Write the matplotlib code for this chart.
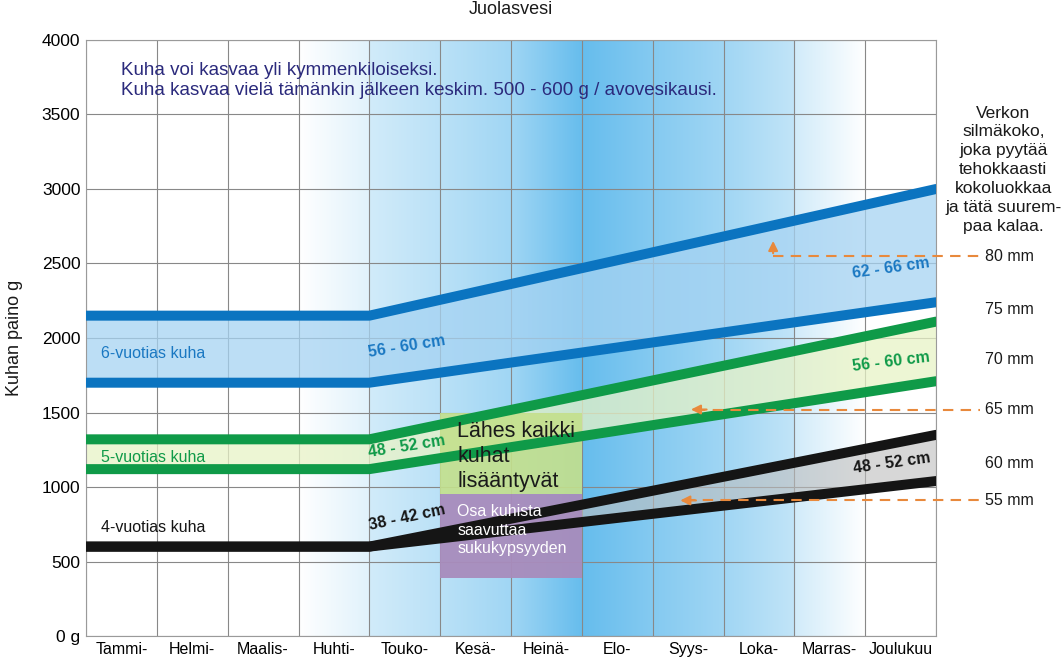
import numpy as np
import matplotlib
matplotlib.use('Agg')
import matplotlib.pyplot as plt

plt.rcParams['font.family'] = ['Liberation Sans', 'DejaVu Sans']

# months and y ticks
months = ['Tammi-', 'Helmi-', 'Maalis-', 'Huhti-', 'Touko-', 'Kesä-', 'Heinä-',
          'Elo-', 'Syys-', 'Loka-', 'Marras-', 'Joulukuu']
yticks = [0, 500, 1000, 1500, 2000, 2500, 3000, 3500, 4000]
ytick_labels = ['0 g', '500', '1000', '1500', '2000', '2500', '3000', '3500', '4000']

# growth lines: x positions (month boundaries) and weights (g)
line_x = [0, 4, 12]
blue_top = [2150, 2150, 3000]
blue_bot = [1700, 1700, 2240]
green_top = [1320, 1320, 2110]
green_bot = [1120, 1120, 1710]
black_top = [600, 600, 1350]
black_bot = [600, 600, 1040]

# spawning boxes (x0, x1, y0, y1)
box_spawn = (5, 7, 950, 1500)
box_mature = (5, 7, 390, 950)

# mesh size markers: label, weight level, arrow tip x
mesh_labels = ['80 mm', '75 mm', '70 mm', '65 mm', '60 mm', '55 mm']
mesh_y = [2550, 2188, 1859, 1520, 1161, 910]
arrow_80_x = 9.7
arrow_65_x = 8.5
arrow_55_x = 8.35

fig = plt.figure(figsize=(10.62, 6.61), dpi=100)
ax = fig.add_axes([0.081, 0.0378, 0.8004, 0.9017])

# background gradient (summer season)
gx = np.linspace(0, 12, 1200)
px = [0, 3, 4, 4.001, 5, 6, 7, 8, 9, 10, 10.001, 11, 12]
pt = [0, 0, 0.2, 0.3, 0.45, 0.62, 1.0, 0.8, 0.62, 0.4, 0.3, 0, 0]
t = np.interp(gx, px, pt)
dark = np.array([0.40, 0.74, 0.93])
rgb = 1 - t[:, None] * (1 - dark[None, :])
img = np.tile(rgb[None, :, :], (2, 1, 1))
ax.imshow(img, extent=[0, 12, 0, 4000], aspect='auto', zorder=0, interpolation='bilinear')

ax.set_xlim(0, 12)
ax.set_ylim(0, 4000)

# grid
ax.set_xticks(np.arange(13), minor=True)
ax.set_xticks(np.arange(12) + 0.5)
ax.set_xticklabels(months, fontsize=11.5)
ax.set_yticks(yticks)
ax.set_yticklabels(ytick_labels, fontsize=12.5)
ax.tick_params(which='both', length=0, pad=4)
ax.grid(which='minor', axis='x', color='#888888', lw=0.8, zorder=1)
ax.grid(which='major', axis='y', color='#888888', lw=0.8, zorder=1)
for s in ax.spines.values():
    s.set_color('#9a9a9a')
    s.set_linewidth(0.8)

# bands
ax.fill_between(line_x, blue_bot, blue_top, color='#a6d3f2', alpha=0.75, lw=0, zorder=2)
ax.fill_between(line_x, green_bot, green_top, color='#e8f3c6', alpha=0.75, lw=0, zorder=2)
ax.fill_between(line_x, black_bot, black_top, color='#bdbdbd', alpha=0.6, lw=0, zorder=2)

# boxes
x0, x1, y0, y1 = box_spawn
ax.fill_between([x0, x1], y0, y1, color='#c4e08c', alpha=0.9, lw=0, zorder=3)
x0, x1, y0, y1 = box_mature
ax.fill_between([x0, x1], y0, y1, color='#a88cbc', alpha=0.95, lw=0, zorder=3)

# lines
lw = 7.2
for ys, c in [(blue_top, '#0b74c0'), (blue_bot, '#0b74c0'),
              (green_top, '#0f9a48'), (green_bot, '#0f9a48'),
              (black_top, '#151515'), (black_bot, '#151515')]:
    ax.plot(line_x, ys, color=c, lw=lw, solid_capstyle='round',
            solid_joinstyle='round', zorder=4)

# texts in plot
navy = '#2b2a7c'
ax.text(0.49, 3792, 'Kuha voi kasvaa yli kymmenkiloiseksi.', color=navy,
        fontsize=13.5, va='center', zorder=6)
ax.text(0.49, 3658, 'Kuha kasvaa vielä tämänkin jälkeen keskim. 500 - 600 g / avovesikausi.',
        color=navy, fontsize=13.5, va='center', zorder=6)

ax.text(0.21, 1899, '6-vuotias kuha', color='#1a78c2', fontsize=11.5, va='center', zorder=6)
ax.text(0.21, 1201, '5-vuotias kuha', color='#0f9a48', fontsize=11.5, va='center', zorder=6)
ax.text(0.21, 731, '4-vuotias kuha', color='#151515', fontsize=11.5, va='center', zorder=6)

bold = dict(fontsize=11.5, fontweight='bold', ha='center', va='center', zorder=6)
ax.text(4.53, 1945, '56 - 60 cm', color='#1a78c2', rotation=9, **bold)
ax.text(4.53, 1275, '48 - 52 cm', color='#0f9a48', rotation=9, **bold)
ax.text(4.53, 795, '38 - 42 cm', color='#151515', rotation=12, **bold)
ax.text(11.37, 2470, '62 - 66 cm', color='#1a78c2', rotation=8, **bold)
ax.text(11.37, 1839, '56 - 60 cm', color='#0f9a48', rotation=7, **bold)
ax.text(11.37, 1161, '48 - 52 cm', color='#151515', rotation=8, **bold)

ax.text(5.24, 1445, 'Lähes kaikki\nkuhat\nlisääntyvät', color='#1a1a1a',
        fontsize=15.5, va='top', linespacing=1.27, zorder=6)
ax.text(5.24, 885, 'Osa kuhista\nsaavuttaa\nsukukypsyyden', color='white',
        fontsize=11.5, va='top', linespacing=1.28, zorder=6)

# mesh size dashed markers
orange = '#e8893c'
dash = (0, (5, 3.5))
xr = 12.62
ax.plot([arrow_80_x, xr], [mesh_y[0]] * 2, color=orange, lw=1.5, ls=dash, clip_on=False, zorder=5)
ax.annotate('', xy=(arrow_80_x, mesh_y[0] + 120), xytext=(arrow_80_x, mesh_y[0]),
            arrowprops=dict(arrowstyle='-|>', color=orange, lw=1.5, mutation_scale=14), zorder=5)
ax.plot([arrow_65_x + 0.1, xr], [mesh_y[3]] * 2, color=orange, lw=1.5, ls=dash, clip_on=False, zorder=5)
ax.annotate('', xy=(arrow_65_x, mesh_y[3]), xytext=(arrow_65_x + 0.3, mesh_y[3]),
            arrowprops=dict(arrowstyle='-|>', color=orange, lw=1.5, mutation_scale=14), zorder=5)
ax.plot([arrow_55_x + 0.1, xr], [mesh_y[5]] * 2, color=orange, lw=1.5, ls=dash, clip_on=False, zorder=5)
ax.annotate('', xy=(arrow_55_x, mesh_y[5]), xytext=(arrow_55_x + 0.3, mesh_y[5]),
            arrowprops=dict(arrowstyle='-|>', color=orange, lw=1.5, mutation_scale=14), zorder=5)

for lab, yv in zip(mesh_labels, mesh_y):
    ax.text(12.69, yv, lab, fontsize=11.5, va='center', ha='left', color='#1a1a1a', clip_on=False)

ax.text(12.95, 3560, 'Verkon\nsilmäkoko,\njoka pyytää\ntehokkaasti\nkokoluokkaa\nja tätä suurem-\npaa kalaa.',
        fontsize=12.5, ha='center', va='top', linespacing=1.32, color='#1a1a1a', clip_on=False)

fig.text(0.481, 0.985, 'Juolasvesi', fontsize=13, ha='center', va='center', color='#1a1a1a')
fig.text(0.014, 0.489, 'Kuhan paino g', fontsize=13, ha='center', va='center', rotation=90, color='#1a1a1a')

fig.savefig('out.png', dpi=100)
